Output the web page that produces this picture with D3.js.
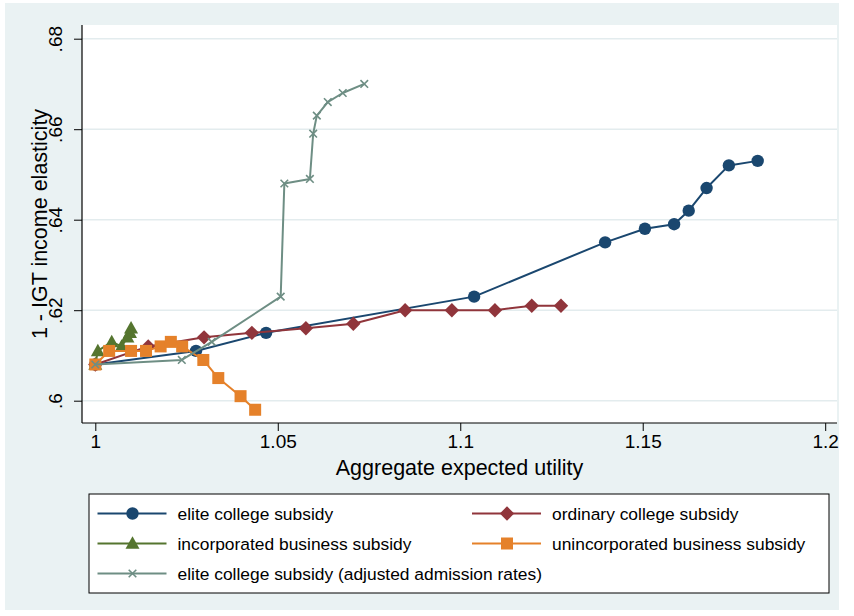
<!DOCTYPE html>
<html>
<head>
<meta charset="utf-8">
<script src="https://cdn.jsdelivr.net/npm/d3@7"></script>
<style>
  html, body { margin: 0; padding: 0; background: #ffffff; }
  svg { display: block; font-family: "Liberation Sans", Arial, Helvetica, sans-serif; }
</style>
</head>
<body>
<svg id="chart" width="854" height="616"></svg>
<script>
// ---------------- data ----------------
const eliteX = [1.000, 1.0276, 1.0468, 1.1038, 1.1397, 1.1506, 1.1586, 1.1626, 1.1675, 1.1736, 1.1815];
const eliteY = [0.608, 0.611, 0.615, 0.623, 0.635, 0.638, 0.639, 0.642, 0.647, 0.652, 0.653];

const ordinaryX = [1.000, 1.0145, 1.0298, 1.0429, 1.0577, 1.0707, 1.0849, 1.0977, 1.1095, 1.1196, 1.1276];
const ordinaryY = [0.608, 0.612, 0.614, 0.615, 0.616, 0.617, 0.620, 0.620, 0.620, 0.621, 0.621];

const incX = [1.000, 1.0007, 1.0045, 1.0072, 1.0088, 1.0095, 1.0098];
const incY = [0.608, 0.611, 0.613, 0.612, 0.614, 0.615, 0.616];

const unincX = [1.000, 1.0038, 1.0098, 1.0139, 1.0179, 1.0207, 1.0238, 1.0296, 1.0337, 1.0398, 1.0438];
const unincY = [0.608, 0.611, 0.611, 0.611, 0.612, 0.613, 0.612, 0.609, 0.605, 0.601, 0.598];

const adjX = [1.000, 1.0237, 1.0319, 1.0508, 1.0518, 1.0588, 1.0597, 1.0607, 1.0637, 1.0678, 1.0737];
const adjY = [0.608, 0.609, 0.613, 0.623, 0.648, 0.649, 0.659, 0.663, 0.666, 0.668, 0.670];

const xTicks = [1, 1.05, 1.1, 1.15, 1.2];
const xTickLabels = ["1", "1.05", "1.1", "1.15", "1.2"];
const yTicks = [0.6, 0.62, 0.64, 0.66, 0.68];
const yTickLabels = [".6", ".62", ".64", ".66", ".68"];

const seriesNames = [
  "elite college subsidy",
  "ordinary college subsidy",
  "incorporated business subsidy",
  "unincorporated business subsidy",
  "elite college subsidy (adjusted admission rates)"
];
const xTitle = "Aggregate expected utility";
const yTitle = "1 - IGT income elasticity";

// ---------------- styles ----------------
const colors = ["#1a476f", "#90353b", "#55752f", "#e5812a", "#6e8e84"];
const markers = ["circle", "diamond", "triangle", "square", "x"];

const series = [
  { name: seriesNames[0], xs: eliteX, ys: eliteY, color: colors[0], marker: markers[0] },
  { name: seriesNames[1], xs: ordinaryX, ys: ordinaryY, color: colors[1], marker: markers[1] },
  { name: seriesNames[2], xs: incX, ys: incY, color: colors[2], marker: markers[2] },
  { name: seriesNames[3], xs: unincX, ys: unincY, color: colors[3], marker: markers[3] },
  { name: seriesNames[4], xs: adjX, ys: adjY, color: colors[4], marker: markers[4] }
];

const svg = d3.select("#chart");

// graph region background
svg.append("rect").attr("x", 5).attr("y", 3).attr("width", 834).attr("height", 607)
  .attr("fill", "#eaf2f3");

const plot = { left: 82, right: 837, top: 25, bottom: 423 };
svg.append("rect").attr("x", plot.left).attr("y", plot.top)
  .attr("width", plot.right - plot.left).attr("height", plot.bottom - plot.top)
  .attr("fill", "#ffffff");

const x = d3.scaleLinear().domain([1, 1.2]).range([95.3, 825.2]);
const y = d3.scaleLinear().domain([0.6, 0.68]).range([400.7, 38.7]);

// gridlines
svg.append("g").selectAll("line").data(yTicks).join("line")
  .attr("x1", plot.left).attr("x2", plot.right)
  .attr("y1", d => y(d)).attr("y2", d => y(d))
  .attr("stroke", "#e3ecee").attr("stroke-width", 1.6);

// axes
const xAxis = d3.axisBottom(x).tickValues(xTicks)
  .tickFormat((d, i) => xTickLabels[i]).tickSize(8).tickSizeOuter(0).tickPadding(4);
const gx = svg.append("g").attr("transform", `translate(0,${plot.bottom})`).call(xAxis);
gx.select(".domain").remove();
gx.append("line").attr("x1", plot.left).attr("x2", plot.right).attr("y1", 0).attr("y2", 0)
  .attr("stroke", "#000").attr("stroke-width", 1.2);
gx.selectAll(".tick line").attr("stroke", "#000").attr("stroke-width", 1);
gx.selectAll(".tick text").attr("font-size", 19).attr("fill", "#000")
  .attr("font-family", "Liberation Sans, Arial, sans-serif");

const yAxis = d3.axisLeft(y).tickValues(yTicks)
  .tickFormat((d, i) => yTickLabels[i]).tickSize(8).tickSizeOuter(0);
const gy = svg.append("g").attr("transform", `translate(${plot.left},0)`).call(yAxis);
gy.select(".domain").remove();
gy.append("line").attr("x1", 0).attr("x2", 0).attr("y1", plot.top).attr("y2", plot.bottom)
  .attr("stroke", "#000").attr("stroke-width", 1.2);
gy.selectAll(".tick line").attr("stroke", "#000").attr("stroke-width", 1);
gy.selectAll(".tick text")
  .attr("font-size", 19).attr("fill", "#000")
  .attr("font-family", "Liberation Sans, Arial, sans-serif")
  .attr("x", null).attr("dy", null)
  .attr("text-anchor", "middle")
  .attr("transform", "translate(-20,0) rotate(-90)");

// axis titles
svg.append("text").attr("x", (plot.left + plot.right) / 2).attr("y", 475)
  .attr("text-anchor", "middle").attr("font-size", 21.5).attr("fill", "#000").text(xTitle);
svg.append("text")
  .attr("transform", `translate(47,${(plot.top + plot.bottom) / 2}) rotate(-90)`)
  .attr("text-anchor", "middle").attr("font-size", 21.5).attr("fill", "#000").text(yTitle);

// marker drawing
function drawMarker(g, type, cx, cy, color) {
  if (type === "circle") {
    g.append("circle").attr("cx", cx).attr("cy", cy).attr("r", 6.2).attr("fill", color);
  } else if (type === "diamond") {
    const h = 7.2;
    g.append("path").attr("d", `M${cx},${cy - h}L${cx + h},${cy}L${cx},${cy + h}L${cx - h},${cy}Z`)
      .attr("fill", color);
  } else if (type === "triangle") {
    const w = 7, ht = 12.5;
    g.append("path").attr("d", `M${cx},${cy - ht * 0.58}L${cx + w},${cy + ht * 0.42}L${cx - w},${cy + ht * 0.42}Z`)
      .attr("fill", color);
  } else if (type === "square") {
    const s = 6;
    g.append("rect").attr("x", cx - s).attr("y", cy - s).attr("width", 2 * s).attr("height", 2 * s)
      .attr("fill", color);
  } else if (type === "x") {
    const a = 3.8;
    g.append("path").attr("d", `M${cx - a},${cy - a}L${cx + a},${cy + a}M${cx - a},${cy + a}L${cx + a},${cy - a}`)
      .attr("stroke", color).attr("stroke-width", 1.6).attr("fill", "none");
  }
}

// series
const line = d3.line().x(d => x(d[0])).y(d => y(d[1]));
series.forEach(s => {
  const pts = s.xs.map((v, i) => [v, s.ys[i]]);
  const g = svg.append("g");
  g.append("path").datum(pts).attr("d", line)
    .attr("fill", "none").attr("stroke", s.color).attr("stroke-width", 2)
    .attr("stroke-linejoin", "round");
  pts.forEach(p => drawMarker(g, s.marker, x(p[0]), y(p[1]), s.color));
});

// legend
const leg = svg.append("g");
leg.append("rect").attr("x", 89).attr("y", 494).attr("width", 740).attr("height", 99)
  .attr("fill", "#ffffff").attr("stroke", "#000").attr("stroke-width", 1);
const colX = [97.5, 472];
const rowY = [513.5, 543.5, 573.5];
series.forEach((s, i) => {
  const cx = colX[i % 2], cy = rowY[Math.floor(i / 2)];
  leg.append("line").attr("x1", cx).attr("x2", cx + 69).attr("y1", cy).attr("y2", cy)
    .attr("stroke", s.color).attr("stroke-width", 2);
  drawMarker(leg, s.marker, cx + 35, cy, s.color);
  leg.append("text").attr("x", cx + 80).attr("y", cy).attr("dy", "0.35em")
    .attr("font-size", 17.4).attr("fill", "#000").text(s.name);
});
</script>
</body>
</html>
